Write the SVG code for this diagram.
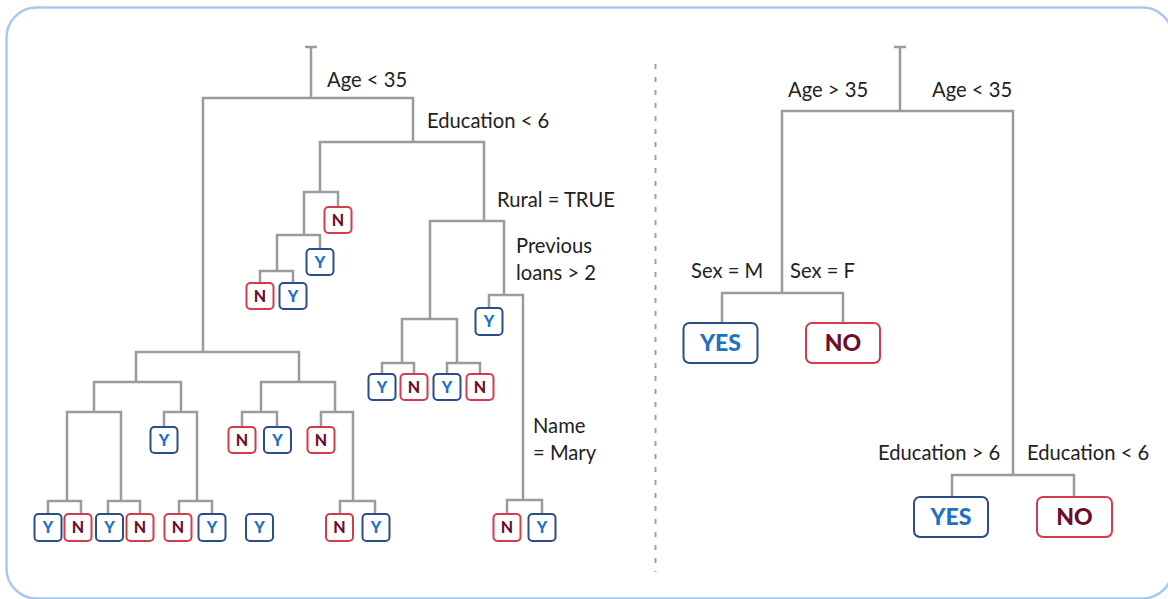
<svg xmlns="http://www.w3.org/2000/svg" width="1168" height="599" viewBox="0 0 1168 599">
<defs>
<style>
.frame{fill:#ffffff;stroke:#a9c7ef;stroke-width:2.5}
.ln{fill:none;stroke:#9b9b9b;stroke-width:2.5;stroke-linejoin:miter;stroke-linecap:butt}
.dash{fill:none;stroke:#a0a0a0;stroke-width:2;stroke-dasharray:5 8}
.lbl{font-family:Lato,"Open Sans","Liberation Sans",sans-serif;font-size:20.2px;fill:#222222}
.by{fill:#ffffff;stroke:#2c4d86;stroke-width:2}
.bn{fill:#ffffff;stroke:#d43c4e;stroke-width:2}
.ty{font-family:Lato,"Liberation Sans",sans-serif;font-weight:900;font-size:16px;fill:#1e72c2;text-anchor:middle}
.tn{font-family:Lato,"Liberation Sans",sans-serif;font-weight:900;font-size:16px;fill:#6d0e2d;text-anchor:middle}
.TY{font-family:Lato,"Liberation Sans",sans-serif;font-weight:900;font-size:23px;fill:#1e72c2;text-anchor:middle}
.TN{font-family:Lato,"Liberation Sans",sans-serif;font-weight:900;font-size:23px;fill:#6d0e2d;text-anchor:middle}
</style>
</defs>
<rect class="frame" x="6.5" y="7.5" width="1166" height="591" rx="30"/>
<line class="dash" x1="655.5" y1="64" x2="655.5" y2="572"/>

<g id="connectors">
<path class="ln" d="M305 47 H317 M311 47 V98"/>
<path class="ln" d="M203 352 V98 H413 V142"/>
<path class="ln" d="M320 192 V142 H484 V221"/>
<path class="ln" d="M304 236 V192 H338 V207"/>
<path class="ln" d="M277 271 V235 H320 V249"/>
<path class="ln" d="M260 283 V271 H293 V283"/>
<path class="ln" d="M430 319 V221 H504 V295"/>
<path class="ln" d="M402 363 V319 H457 V363"/>
<path class="ln" d="M382 374 V363 H414 V374"/>
<path class="ln" d="M447 374 V363 H480 V374"/>
<path class="ln" d="M489 308 V295 H523 V500"/>
<path class="ln" d="M507 514 V500 H542 V514"/>
<path class="ln" d="M136 382 V352 H299 V382"/>
<path class="ln" d="M94 412 V382 H181 V412"/>
<path class="ln" d="M67 501 V412 H121 V501"/>
<path class="ln" d="M48 514 V501 H81 V514"/>
<path class="ln" d="M108 514 V501 H140 V514"/>
<path class="ln" d="M164 427 V412 H197 V501"/>
<path class="ln" d="M179 514 V501 H212 V514"/>
<path class="ln" d="M261 412 V382 H335 V412"/>
<path class="ln" d="M242 427 V412 H277 V427"/>
<path class="ln" d="M321 427 V412 H353 V501"/>
<path class="ln" d="M340 514 V501 H375 V514"/>
<path class="ln" d="M894 47 H906 M900 47 V111"/>
<path class="ln" d="M782 293 V111 H1013 V475"/>
<path class="ln" d="M722 323 V293 H843 V323"/>
<path class="ln" d="M952 497 V475 H1074 V497"/>
</g>

<g id="labels">
<text class="lbl" x="327" y="87">Age &lt; 35</text>
<text class="lbl" x="427" y="128">Education &lt; 6</text>
<text class="lbl" x="497" y="207">Rural = TRUE</text>
<text class="lbl" x="516" y="253">Previous</text>
<text class="lbl" x="516" y="280">loans &gt; 2</text>
<text class="lbl" x="533" y="433">Name</text>
<text class="lbl" x="533" y="460">= Mary</text>
<text class="lbl" x="788" y="97">Age &gt; 35</text>
<text class="lbl" x="932" y="97">Age &lt; 35</text>
<text class="lbl" x="691" y="278">Sex = M</text>
<text class="lbl" x="790" y="278">Sex = F</text>
<text class="lbl" x="878" y="460">Education &gt; 6</text>
<text class="lbl" x="1027" y="460">Education &lt; 6</text>
</g>

<g id="leaf-l1"><rect class="bn" x="324.5" y="207" width="27" height="26" rx="4"/><text class="tn" x="338" y="225.5">N</text></g>
<g id="leaf-l2"><rect class="by" x="306.5" y="249" width="27" height="26" rx="4"/><text class="ty" x="320" y="267.5">Y</text></g>
<g id="leaf-l3"><rect class="bn" x="246.5" y="283" width="27" height="26" rx="4"/><text class="tn" x="260" y="301.5">N</text></g>
<g id="leaf-l4"><rect class="by" x="279.5" y="283" width="27" height="26" rx="4"/><text class="ty" x="293" y="301.5">Y</text></g>
<g id="leaf-r1"><rect class="by" x="368.5" y="374" width="27" height="26" rx="4"/><text class="ty" x="382" y="392.5">Y</text></g>
<g id="leaf-r2"><rect class="bn" x="400.5" y="374" width="27" height="26" rx="4"/><text class="tn" x="414" y="392.5">N</text></g>
<g id="leaf-r3"><rect class="by" x="433.5" y="374" width="27" height="26" rx="4"/><text class="ty" x="447" y="392.5">Y</text></g>
<g id="leaf-r4"><rect class="bn" x="466.5" y="374" width="27" height="26" rx="4"/><text class="tn" x="480" y="392.5">N</text></g>
<g id="leaf-p1"><rect class="by" x="475.5" y="308" width="27" height="27" rx="4"/><text class="ty" x="489" y="327">Y</text></g>
<g id="leaf-m1"><rect class="bn" x="493.5" y="514" width="27" height="27" rx="4"/><text class="tn" x="507" y="533">N</text></g>
<g id="leaf-m2"><rect class="by" x="528.5" y="514" width="27" height="27" rx="4"/><text class="ty" x="542" y="533">Y</text></g>
<g id="leaf-b1"><rect class="by" x="34.5" y="514" width="27" height="27" rx="4"/><text class="ty" x="48" y="533">Y</text></g>
<g id="leaf-b2"><rect class="bn" x="64.5" y="514" width="27" height="27" rx="4"/><text class="tn" x="78" y="533">N</text></g>
<g id="leaf-b3"><rect class="by" x="96" y="514" width="27" height="27" rx="4"/><text class="ty" x="109.5" y="533">Y</text></g>
<g id="leaf-b4"><rect class="bn" x="126.5" y="514" width="27" height="27" rx="4"/><text class="tn" x="140" y="533">N</text></g>
<g id="leaf-b5"><rect class="bn" x="164.5" y="514" width="27" height="27" rx="4"/><text class="tn" x="178" y="533">N</text></g>
<g id="leaf-b6"><rect class="by" x="198.5" y="514" width="27" height="27" rx="4"/><text class="ty" x="212" y="533">Y</text></g>
<g id="leaf-b7"><rect class="by" x="246" y="514" width="27" height="27" rx="4"/><text class="ty" x="259.5" y="533">Y</text></g>
<g id="leaf-b8"><rect class="bn" x="326" y="514" width="27" height="27" rx="4"/><text class="tn" x="339.5" y="533">N</text></g>
<g id="leaf-b9"><rect class="by" x="362.5" y="514" width="27" height="27" rx="4"/><text class="ty" x="376" y="533">Y</text></g>
<g id="leaf-c1"><rect class="by" x="150.5" y="427" width="27" height="26" rx="4"/><text class="ty" x="164" y="445.5">Y</text></g>
<g id="leaf-c2"><rect class="bn" x="228.5" y="427" width="27" height="26" rx="4"/><text class="tn" x="242" y="445.5">N</text></g>
<g id="leaf-c3"><rect class="by" x="264" y="427" width="27" height="26" rx="4"/><text class="ty" x="277.5" y="445.5">Y</text></g>
<g id="leaf-c4"><rect class="bn" x="307.5" y="427" width="27" height="26" rx="4"/><text class="tn" x="321" y="445.5">N</text></g>

<g id="yes1"><rect class="by" x="683.5" y="323" width="74" height="40" rx="6"/><text class="TY" x="720.5" y="351">YES</text></g>
<g id="no1"><rect class="bn" x="806" y="323" width="74" height="40" rx="6"/><text class="TN" x="843" y="351">NO</text></g>
<g id="yes2"><rect class="by" x="914" y="497" width="74" height="40" rx="6"/><text class="TY" x="951" y="525">YES</text></g>
<g id="no2"><rect class="bn" x="1037" y="497" width="75" height="40" rx="6"/><text class="TN" x="1074.5" y="525">NO</text></g>
</svg>
